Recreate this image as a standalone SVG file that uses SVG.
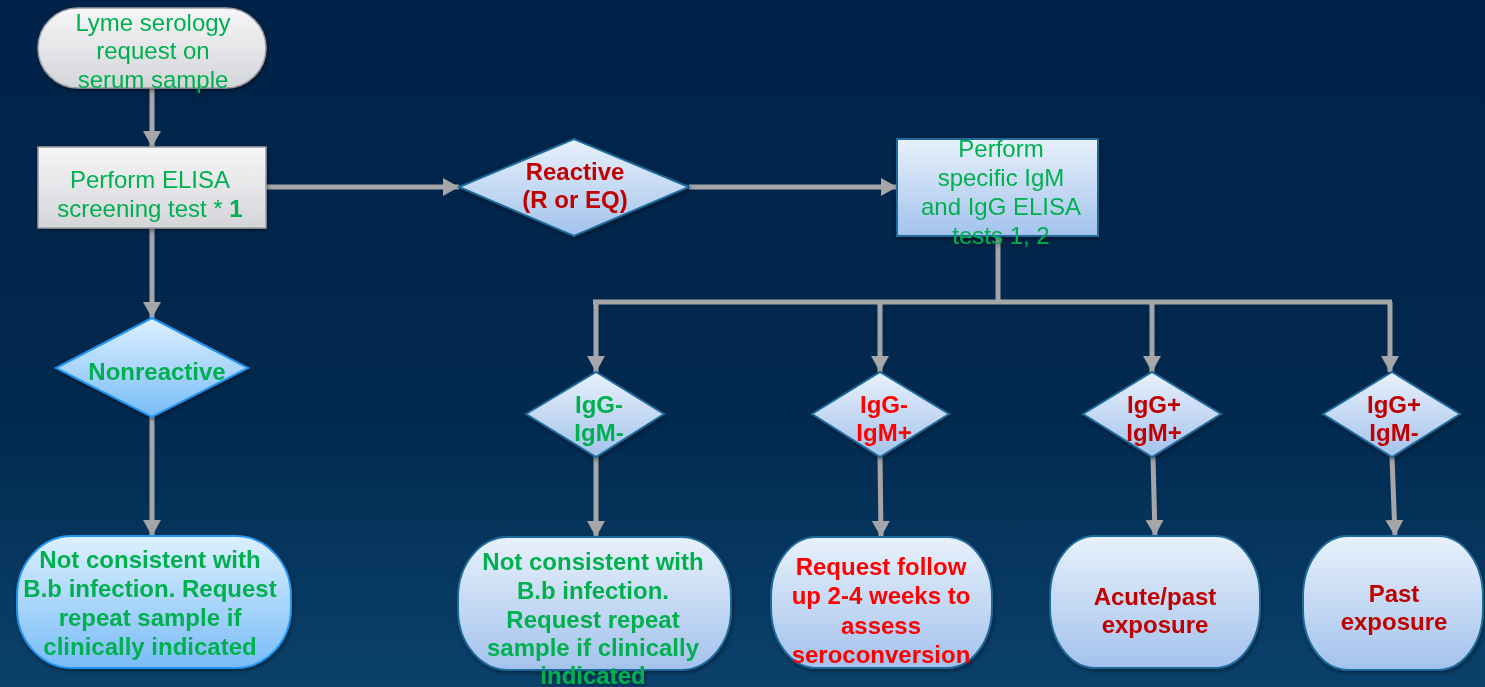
<svg xmlns="http://www.w3.org/2000/svg" width="1485" height="687" viewBox="0 0 1485 687">
<defs>
<linearGradient id="bg" x1="0" y1="0" x2="0" y2="1"><stop offset="0" stop-color="#012248"/><stop offset="0.6" stop-color="#02294f"/><stop offset="1" stop-color="#0a426c"/></linearGradient>
<linearGradient id="gGray" x1="0" y1="0" x2="0" y2="1"><stop offset="0" stop-color="#f6f6f8"/><stop offset="1" stop-color="#d4d5d9"/></linearGradient>
<linearGradient id="gBlue" x1="0" y1="0" x2="0" y2="1"><stop offset="0" stop-color="#e8f1fb"/><stop offset="1" stop-color="#a3c2ec"/></linearGradient>
<linearGradient id="gSky" x1="0" y1="0" x2="0" y2="1"><stop offset="0" stop-color="#ddf0ff"/><stop offset="1" stop-color="#78bcf7"/></linearGradient>
<filter id="sh" x="-10%" y="-10%" width="130%" height="130%"><feDropShadow dx="1" dy="2" stdDeviation="2" flood-color="#000" flood-opacity="0.45"/></filter>
<marker id="ah" markerUnits="userSpaceOnUse" markerWidth="20" markerHeight="20" refX="16" refY="9" orient="auto"><path d="M0,0 L16,9 L0,18 Z" fill="#a6a6a9"/></marker>
<style>
.gray{fill:url(#gGray);stroke:#9c9ca0;stroke-width:1.5}
.blue{fill:url(#gBlue);stroke:#1d6a9b;stroke-width:2}
.sky{fill:url(#gSky);stroke:#2196f0;stroke-width:2}
text{font-family:"Liberation Sans",Arial,sans-serif;font-size:24px;text-anchor:middle}
.b{font-weight:bold}
.g{fill:#00b050}
.r{fill:#ff0000}
.dr{fill:#c00000}
.c{stroke:#a6a6a9;stroke-width:5;fill:none}
</style>
</defs>
<rect width="1485" height="687" fill="url(#bg)"/>
<g id="connectors">
<line class="c" x1="152" y1="88" x2="152" y2="147" marker-end="url(#ah)"/>
<line class="c" x1="152" y1="228" x2="152" y2="318" marker-end="url(#ah)"/>
<line class="c" x1="266" y1="187" x2="459" y2="187" marker-end="url(#ah)"/>
<line class="c" x1="689" y1="187" x2="897" y2="187" marker-end="url(#ah)"/>
<line class="c" x1="152" y1="417" x2="152" y2="536" marker-end="url(#ah)"/>
<polyline class="c" points="998,236 998,302"/>
<line class="c" x1="593" y1="302" x2="1392" y2="302"/>
<line class="c" x1="596" y1="302" x2="596" y2="372" marker-end="url(#ah)"/>
<line class="c" x1="880" y1="302" x2="880" y2="372" marker-end="url(#ah)"/>
<line class="c" x1="1152" y1="302" x2="1152" y2="372" marker-end="url(#ah)"/>
<line class="c" x1="1390" y1="302" x2="1390" y2="372" marker-end="url(#ah)"/>
<line class="c" x1="596" y1="457" x2="596" y2="537" marker-end="url(#ah)"/>
<line class="c" x1="880" y1="457" x2="881" y2="537" marker-end="url(#ah)"/>
<line class="c" x1="1153" y1="457" x2="1155" y2="536" marker-end="url(#ah)"/>
<line class="c" x1="1392" y1="457" x2="1395" y2="536" marker-end="url(#ah)"/>
</g>
<g id="start" filter="url(#sh)">
<rect class="gray" x="38" y="8" width="228" height="80" rx="40" ry="40"/>
<text class="g" x="153" y="31">Lyme serology</text>
<text class="g" x="153" y="59">request on</text>
<text class="g" x="153" y="88">serum sample</text>
</g>
<g id="elisa" filter="url(#sh)">
<rect class="gray" x="38" y="147" width="228" height="81"/>
<text class="g" x="150" y="188">Perform ELISA</text>
<text class="g" x="150" y="217">screening test * <tspan class="b">1</tspan></text>
</g>
<g id="reactive" filter="url(#sh)">
<polygon class="blue" points="459,187 574,139 689,187 574,236"/>
<text class="dr b" x="575" y="180">Reactive</text>
<text class="dr b" x="575" y="208">(R or EQ)</text>
</g>
<g id="specific" filter="url(#sh)">
<rect class="blue" x="897" y="139" width="201" height="97"/>
<text class="g" x="1001" y="157">Perform</text>
<text class="g" x="1001" y="186">specific IgM</text>
<text class="g" x="1001" y="215">and IgG ELISA</text>
<text class="g" x="1001" y="244">tests 1, 2</text>
</g>
<g id="nonreactive" filter="url(#sh)">
<polygon class="sky" points="56,368 152,318 248,368 152,417"/>
<text class="g b" x="157" y="380">Nonreactive</text>
</g>
<g id="result1" filter="url(#sh)">
<rect class="sky" x="17" y="536" width="274" height="132" rx="55" ry="60"/>
<text class="g b" x="150" y="568">Not consistent with</text>
<text class="g b" x="150" y="597">B.b infection. Request</text>
<text class="g b" x="150" y="626">repeat sample if</text>
<text class="g b" x="150" y="655">clinically indicated</text>
</g>
<g id="d1" filter="url(#sh)">
<polygon class="blue" points="526,414 596,372 664,414 596,457"/>
<text class="g b" x="599" y="413">IgG-</text>
<text class="g b" x="599" y="441">IgM-</text>
</g>
<g id="d2" filter="url(#sh)">
<polygon class="blue" points="812,414 880,372 949,414 880,457"/>
<text class="r b" x="884" y="413">IgG-</text>
<text class="r b" x="884" y="441">IgM+</text>
</g>
<g id="d3" filter="url(#sh)">
<polygon class="blue" points="1083,414 1152,372 1221,414 1152,457"/>
<text class="dr b" x="1154" y="413">IgG+</text>
<text class="dr b" x="1154" y="441">IgM+</text>
</g>
<g id="d4" filter="url(#sh)">
<polygon class="blue" points="1323,414 1392,372 1460,414 1392,457"/>
<text class="dr b" x="1394" y="413">IgG+</text>
<text class="dr b" x="1394" y="441">IgM-</text>
</g>
<g id="result2" filter="url(#sh)">
<rect class="blue" x="458" y="537" width="273" height="133" rx="50" ry="60"/>
<text class="g b" x="593" y="570">Not consistent with</text>
<text class="g b" x="593" y="599">B.b infection.</text>
<text class="g b" x="593" y="628">Request repeat</text>
<text class="g b" x="593" y="656">sample if clinically</text>
<text class="g b" x="593" y="684">indicated</text>
</g>
<g id="result3" filter="url(#sh)">
<rect class="blue" x="771" y="537" width="221" height="131" rx="45" ry="60"/>
<text class="r b" x="881" y="575">Request follow</text>
<text class="r b" x="881" y="604">up 2-4 weeks to</text>
<text class="r b" x="881" y="634">assess</text>
<text class="r b" x="881" y="663">seroconversion</text>
</g>
<g id="result4" filter="url(#sh)">
<rect class="blue" x="1050" y="536" width="210" height="132" rx="45" ry="60"/>
<text class="dr b" x="1155" y="605">Acute/past</text>
<text class="dr b" x="1155" y="633">exposure</text>
</g>
<g id="result5" filter="url(#sh)">
<rect class="blue" x="1303" y="536" width="180" height="134" rx="45" ry="60"/>
<text class="dr b" x="1394" y="602">Past</text>
<text class="dr b" x="1394" y="630">exposure</text>
</g>
</svg>
